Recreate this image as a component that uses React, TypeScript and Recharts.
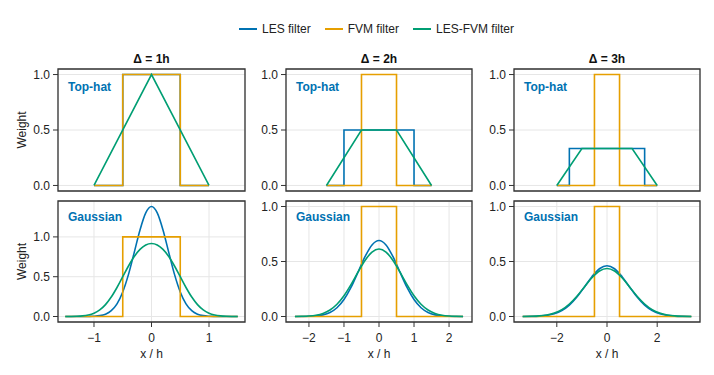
import React from 'react';
import { LineChart, Line, XAxis, YAxis, CartesianGrid, ReferenceArea, Legend } from 'recharts';

const BLUE = '#0072B2';
const ORANGE = '#E69F00';
const GREEN = '#009E73';

const seriesNames = ['LES filter', 'FVM filter', 'LES-FVM filter'];
const titles = ['Δ = 1h', 'Δ = 2h', 'Δ = 3h'];
const rowLabels = ['Top-hat', 'Gaussian'];
const yTicks = [0, 0.5, 1];
const xTicks1 = [-1, 0, 1];
const xTicks2 = [-2, -1, 0, 1, 2];
const xTicks3 = [-2, 0, 2];

// top-hat row
const hat1X = [-1, -0.5, -0.5, 0.5, 0.5, 1];
const hat1Les = [0, 0, 1, 1, 0, 0];
const hat1FvmX = [-1, -0.5, -0.5, 0.5, 0.5, 1];
const hat1Fvm = [0, 0, 1, 1, 0, 0];
const hat1MixX = [-1, 0, 1];
const hat1Mix = [0, 1, 0];

const hat2X = [-1.5, -1, -1, 1, 1, 1.5];
const hat2Les = [0, 0, 0.5, 0.5, 0, 0];
const hat2FvmX = [-1.5, -0.5, -0.5, 0.5, 0.5, 1.5];
const hat2Fvm = [0, 0, 1, 1, 0, 0];
const hat2MixX = [-1.5, -0.5, 0.5, 1.5];
const hat2Mix = [0, 0.5, 0.5, 0];

const hat3X = [-2, -1.5, -1.5, 1.5, 1.5, 2];
const hat3Les = [0, 0, 0.333, 0.333, 0, 0];
const hat3FvmX = [-2, -0.5, -0.5, 0.5, 0.5, 2];
const hat3Fvm = [0, 0, 1, 1, 0, 0];
const hat3MixX = [-2, -1, 1, 2];
const hat3Mix = [0, 0.333, 0.333, 0];

// gaussian row
const gau1X = [-1.5, -1.4, -1.3, -1.2, -1.1, -1.0, -0.9, -0.8, -0.7, -0.6, -0.5, -0.4, -0.3, -0.2, -0.1, 0,
  0.1, 0.2, 0.3, 0.4, 0.5, 0.6, 0.7, 0.8, 0.9, 1.0, 1.1, 1.2, 1.3, 1.4, 1.5];
const gau1Les = [0, 0, 0.0001, 0.0002, 0.001, 0.0034, 0.0107, 0.0297, 0.0731, 0.1594, 0.3084, 0.5292, 0.8054, 1.0871, 1.3015, 1.382,
  1.3015, 1.0871, 0.8054, 0.5292, 0.3084, 0.1594, 0.0731, 0.0297, 0.0107, 0.0034, 0.001, 0.0002, 0.0001, 0, 0];
const gau1Mix = [0.0003, 0.0009, 0.0028, 0.0077, 0.0188, 0.0416, 0.0829, 0.1493, 0.2442, 0.3645, 0.4997, 0.6346, 0.753, 0.843, 0.8982, 0.9167,
  0.8982, 0.843, 0.753, 0.6346, 0.4997, 0.3645, 0.2442, 0.1493, 0.0829, 0.0416, 0.0188, 0.0077, 0.0028, 0.0009, 0.0003];
const gau1FvmX = [-1.5, -0.5, -0.5, 0.5, 0.5, 1.5];
const gau1Fvm = [0, 0, 1, 1, 0, 0];

const gau2X = [-2.4, -2.2, -2.0, -1.8, -1.6, -1.4, -1.2, -1.0, -0.8, -0.6, -0.4, -0.2, 0,
  0.2, 0.4, 0.6, 0.8, 1.0, 1.2, 1.4, 1.6, 1.8, 2.0, 2.2, 2.4];
const gau2Les = [0.0001, 0.0005, 0.0017, 0.0054, 0.0149, 0.0365, 0.0797, 0.1542, 0.2646, 0.4027, 0.5436, 0.6508, 0.691,
  0.6508, 0.5436, 0.4027, 0.2646, 0.1542, 0.0797, 0.0365, 0.0149, 0.0054, 0.0017, 0.0005, 0.0001];
const gau2Mix = [0.0005, 0.0016, 0.0047, 0.0121, 0.0282, 0.059, 0.1111, 0.1885, 0.2895, 0.4029, 0.5092, 0.5857, 0.6135,
  0.5857, 0.5092, 0.4029, 0.2895, 0.1885, 0.1111, 0.059, 0.0282, 0.0121, 0.0047, 0.0016, 0.0005];
const gau2FvmX = [-2.4, -0.5, -0.5, 0.5, 0.5, 2.4];
const gau2Fvm = [0, 0, 1, 1, 0, 0];

const gau3X = [-3.36, -3.0, -2.7, -2.4, -2.1, -1.8, -1.5, -1.2, -0.9, -0.6, -0.3, 0,
  0.3, 0.6, 0.9, 1.2, 1.5, 1.8, 2.1, 2.4, 2.7, 3.0, 3.36];
const gau3Les = [0.0002, 0.0011, 0.0036, 0.0099, 0.0244, 0.0531, 0.1028, 0.1764, 0.2685, 0.3624, 0.4339, 0.4607,
  0.4339, 0.3624, 0.2685, 0.1764, 0.1028, 0.0531, 0.0244, 0.0099, 0.0036, 0.0011, 0.0002];
const gau3Mix = [0.0005, 0.0019, 0.0054, 0.0137, 0.031, 0.0627, 0.1137, 0.1846, 0.2691, 0.352, 0.4135, 0.4363,
  0.4135, 0.352, 0.2691, 0.1846, 0.1137, 0.0627, 0.031, 0.0137, 0.0054, 0.0019, 0.0005];
const gau3FvmX = [-3.36, -0.5, -0.5, 0.5, 0.5, 3.36];
const gau3Fvm = [0, 0, 1, 1, 0, 0];

const pts = (xs: number[], ys: number[]) => xs.map((x, i) => ({ x, y: ys[i] }));

const colLeft = [58, 286, 514];
const colWidth = [187, 186, 186];
const rowTop = [69, 201];
const rowHeight = [122, 121];
const xDomains = [[-1.626, 1.626], [-2.655, 2.655], [-3.706, 3.706]];
const xTickSets = [xTicks1, xTicks2, xTicks3];
const font = '"Liberation Sans", Arial, Helvetica, sans-serif';

type Series = { name: string; color: string; data: { x: number; y: number }[]; curve: 'linear' | 'monotone' };

const panels: { row: number; col: number; yDomain: number[]; series: Series[] }[] = [
  { row: 0, col: 0, yDomain: [-0.05, 1.05], series: [
    { name: seriesNames[0], color: BLUE, data: pts(hat1X, hat1Les), curve: 'linear' },
    { name: seriesNames[1], color: ORANGE, data: pts(hat1FvmX, hat1Fvm), curve: 'linear' },
    { name: seriesNames[2], color: GREEN, data: pts(hat1MixX, hat1Mix), curve: 'linear' },
  ] },
  { row: 0, col: 1, yDomain: [-0.05, 1.05], series: [
    { name: seriesNames[0], color: BLUE, data: pts(hat2X, hat2Les), curve: 'linear' },
    { name: seriesNames[1], color: ORANGE, data: pts(hat2FvmX, hat2Fvm), curve: 'linear' },
    { name: seriesNames[2], color: GREEN, data: pts(hat2MixX, hat2Mix), curve: 'linear' },
  ] },
  { row: 0, col: 2, yDomain: [-0.05, 1.05], series: [
    { name: seriesNames[0], color: BLUE, data: pts(hat3X, hat3Les), curve: 'linear' },
    { name: seriesNames[1], color: ORANGE, data: pts(hat3FvmX, hat3Fvm), curve: 'linear' },
    { name: seriesNames[2], color: GREEN, data: pts(hat3MixX, hat3Mix), curve: 'linear' },
  ] },
  { row: 1, col: 0, yDomain: [-0.069, 1.451], series: [
    { name: seriesNames[0], color: BLUE, data: pts(gau1X, gau1Les), curve: 'monotone' },
    { name: seriesNames[1], color: ORANGE, data: pts(gau1FvmX, gau1Fvm), curve: 'linear' },
    { name: seriesNames[2], color: GREEN, data: pts(gau1X, gau1Mix), curve: 'monotone' },
  ] },
  { row: 1, col: 1, yDomain: [-0.05, 1.05], series: [
    { name: seriesNames[0], color: BLUE, data: pts(gau2X, gau2Les), curve: 'monotone' },
    { name: seriesNames[1], color: ORANGE, data: pts(gau2FvmX, gau2Fvm), curve: 'linear' },
    { name: seriesNames[2], color: GREEN, data: pts(gau2X, gau2Mix), curve: 'monotone' },
  ] },
  { row: 1, col: 2, yDomain: [-0.05, 1.05], series: [
    { name: seriesNames[0], color: BLUE, data: pts(gau3X, gau3Les), curve: 'monotone' },
    { name: seriesNames[1], color: ORANGE, data: pts(gau3FvmX, gau3Fvm), curve: 'linear' },
    { name: seriesNames[2], color: GREEN, data: pts(gau3X, gau3Mix), curve: 'monotone' },
  ] },
];

const fmtX = (v: number) => (v < 0 ? '\u2212' + Math.abs(v) : String(v));

// keep legend in series order (recharts sorts by value otherwise)
const renderLegend = (props: any) => {
  const items = [...(props.payload || [])].sort(
    (a: any, b: any) => seriesNames.indexOf(a.value) - seriesNames.indexOf(b.value)
  );
  return (
    <div style={{ display: 'flex', alignItems: 'center', fontSize: 12, lineHeight: '16px', color: '#222', fontFamily: font }}>
      {items.map((p: any) => (
        <div key={p.value} style={{ display: 'flex', alignItems: 'center', marginRight: 14 }}>
          <span style={{ display: 'inline-block', width: 18, height: 2, background: p.color, marginRight: 5 }} />
          <span>{p.value}</span>
        </div>
      ))}
    </div>
  );
};

function Panel({ row, col, yDomain, series }: { row: number; col: number; yDomain: number[]; series: Series[] }) {
  const yW = col === 0 ? 48 : 36;
  const mTop = 6;
  const mRight = 6;
  const xH = row === 1 ? 40 : 6;
  const left = colLeft[col] - yW;
  const top = rowTop[row] - mTop;
  const width = yW + colWidth[col] + mRight;
  const height = mTop + rowHeight[row] + xH;
  const xd = xDomains[col];
  return (
    <div style={{ position: 'absolute', left, top }}>
      <LineChart width={width} height={height} margin={{ top: mTop, right: mRight, bottom: 0, left: 0 }}>
        <CartesianGrid stroke="#e6e6e6" strokeWidth={1} />
        <XAxis
          type="number"
          dataKey="x"
          domain={xd}
          allowDataOverflow
          ticks={xTickSets[col]}
          tickFormatter={fmtX}
          tick={row === 1 ? { fill: '#222', fontSize: 12 } : false}
          tickLine={row === 1 ? { stroke: '#333' } : false}
          tickSize={5}
          tickMargin={6}
          axisLine={false}
          height={xH}
          label={row === 1 ? { value: 'x / h', position: 'insideBottom', offset: 4, fill: '#222', fontSize: 12 } : undefined}
        />
        <YAxis
          type="number"
          domain={yDomain}
          allowDataOverflow
          ticks={yTicks}
          tickFormatter={(v: number) => v.toFixed(1)}
          tick={{ fill: '#222', fontSize: 12 }}
          tickLine={{ stroke: '#333' }}
          tickSize={5}
          tickMargin={3}
          axisLine={false}
          width={yW}
          label={col === 0 ? { value: 'Weight', angle: -90, position: 'insideLeft', offset: 12, fill: '#222', fontSize: 12, style: { textAnchor: 'middle' } } : undefined}
        />
        <ReferenceArea x1={xd[0]} x2={xd[1]} y1={yDomain[0]} y2={yDomain[1]} fill="none" stroke="#333" strokeWidth={1.3} ifOverflow="visible" />
        {series.map((s) => (
          <Line
            key={s.name}
            name={s.name}
            data={s.data}
            dataKey="y"
            type={s.curve}
            stroke={s.color}
            strokeWidth={1.6}
            dot={false}
            activeDot={false}
            isAnimationActive={false}
          />
        ))}
        {row === 0 && col === 0 && (
          <Legend
            layout="horizontal"
            verticalAlign="middle"
            align="center"
            content={renderLegend}
            wrapperStyle={{ left: 239 - left, top: 29 - 8 - top, width: 400, height: 16 }}
          />
        )}
      </LineChart>
    </div>
  );
}

export default function App() {
  return (
    <div style={{ position: 'absolute', left: 0, top: 0, width: 714, height: 375, background: '#fff', fontFamily: font, overflow: 'hidden' }}>
      {panels.map((p) => (
        <Panel key={`${p.row}-${p.col}`} {...p} />
      ))}
      {titles.map((t, i) => (
        <div key={t} style={{ position: 'absolute', left: colLeft[i], top: 51, width: colWidth[i], textAlign: 'center', fontSize: 12, lineHeight: '16px', fontWeight: 'bold', color: '#111' }}>
          {t}
        </div>
      ))}
      {rowLabels.map((r, ri) =>
        colLeft.map((l, ci) => (
          <div key={`${r}-${ci}`} style={{ position: 'absolute', left: l + 10, top: rowTop[ri] + (ri === 0 ? 10 : 8), fontSize: 12, lineHeight: '16px', fontWeight: 'bold', color: BLUE }}>
            {r}
          </div>
        ))
      )}
    </div>
  );
}
